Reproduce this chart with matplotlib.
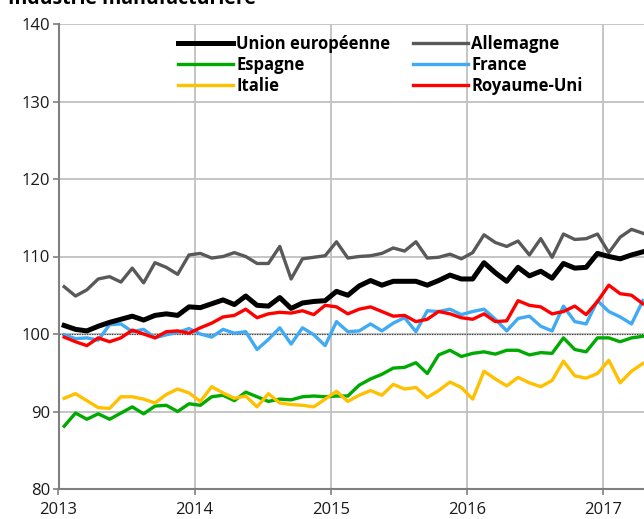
import numpy as np
import matplotlib
matplotlib.use("Agg")
import matplotlib.pyplot as plt

plt.rcParams['font.family'] = ['Open Sans', 'DejaVu Sans']

# mois de janvier 2013 a avril 2017
n_months = 52
months = np.arange(n_months)

ue = [101.1, 100.6, 100.4, 101.0, 101.5, 101.9, 102.3, 101.8, 102.4, 102.6, 102.4, 103.5,
      103.4, 103.9, 104.4, 103.8, 104.9, 103.7, 103.6, 104.7, 103.3, 104.0, 104.2, 104.3,
      105.5, 105.0, 106.2, 106.9, 106.3, 106.8, 106.8, 106.8, 106.3, 106.9, 107.6, 107.1,
      107.1, 109.2, 107.9, 106.8, 108.6, 107.5, 108.1, 107.2, 109.1, 108.5, 108.6, 110.4,
      110.0, 109.7, 110.2, 110.6]
allemagne = [106.1, 104.9, 105.7, 107.1, 107.4, 106.7, 108.5, 106.6, 109.2, 108.6, 107.7, 110.2,
             110.4, 109.8, 110.0, 110.5, 110.0, 109.1, 109.1, 111.3, 107.1, 109.7, 109.9, 110.1,
             111.9, 109.8, 110.0, 110.1, 110.4, 111.1, 110.7, 111.9, 109.8, 109.9, 110.3, 109.7,
             110.5, 112.8, 111.8, 111.3, 112.0, 110.2, 112.3, 109.9, 112.9, 112.2, 112.3, 112.9,
             110.5, 112.5, 113.5, 113.0]
espagne = [88.1, 89.8, 89.0, 89.7, 89.0, 89.8, 90.6, 89.7, 90.7, 90.8, 90.0, 91.0,
           90.8, 91.9, 92.1, 91.4, 92.5, 91.9, 91.3, 91.6, 91.5, 91.9, 92.0, 91.9,
           92.0, 92.0, 93.4, 94.2, 94.8, 95.6, 95.7, 96.3, 94.9, 97.3, 97.9, 97.1,
           97.5, 97.7, 97.4, 97.9, 97.9, 97.3, 97.6, 97.5, 99.5, 98.0, 97.7, 99.5,
           99.5, 99.0, 99.5, 99.7]
france = [99.9, 99.4, 99.5, 99.2, 101.2, 101.3, 100.3, 100.6, 99.5, 99.9, 100.2, 100.7,
          100.0, 99.6, 100.6, 100.1, 100.3, 98.0, 99.3, 100.8, 98.7, 100.8, 99.9, 98.5,
          101.6, 100.3, 100.4, 101.3, 100.4, 101.4, 102.1, 100.3, 103.0, 102.9, 103.2, 102.5,
          102.9, 103.2, 101.9, 100.4, 102.0, 102.3, 101.0, 100.4, 103.6, 101.6, 101.3, 104.3,
          102.9, 102.2, 101.3, 104.3]
italie = [91.7, 92.3, 91.4, 90.5, 90.4, 91.9, 91.9, 91.6, 91.1, 92.2, 92.9, 92.4,
          91.3, 93.2, 92.4, 91.7, 92.0, 90.6, 92.3, 91.1, 90.9, 90.8, 90.6, 91.6,
          92.6, 91.3, 92.1, 92.7, 92.1, 93.5, 92.9, 93.1, 91.8, 92.7, 93.8, 93.1,
          91.6, 95.2, 94.2, 93.3, 94.4, 93.7, 93.2, 94.0, 96.5, 94.6, 94.3, 94.9,
          96.6, 93.7, 95.2, 96.2]
royaume_uni = [99.6, 99.0, 98.5, 99.5, 99.0, 99.5, 100.5, 100.0, 99.5, 100.3, 100.4, 100.1,
               100.8, 101.4, 102.2, 102.4, 103.2, 102.1, 102.6, 102.8, 102.7, 103.0, 102.5, 103.7,
               103.5, 102.6, 103.2, 103.5, 102.9, 102.3, 102.4, 101.6, 101.9, 102.9, 102.6, 102.1,
               101.9, 102.6, 101.6, 101.7, 104.3, 103.7, 103.5, 102.6, 102.9, 103.6, 102.5, 104.2,
               106.3, 105.2, 105.0, 103.9]

years = [2013, 2014, 2015, 2016, 2017]
y_ticks = [80, 90, 100, 110, 120, 130, 140]

# point au milieu de chaque mois
x = 2013 + (months + 0.5) / 12

fig = plt.figure(figsize=(6.44, 5.19), dpi=100)
ax = fig.add_axes([58.5 / 644, 1 - 489 / 519, 1 - 58.5 / 644, (489 - 24) / 519])

for yr in years[1:]:
    ax.axvline(yr, color="#c0c0c0", lw=1.3, zorder=0)
for v in y_ticks[1:]:
    ax.axhline(v, color="#c0c0c0", lw=1.3, zorder=0)
ax.axhline(100, color="#404040", lw=0.9, ls=(0, (1, 1)), zorder=1)

l_ue, = ax.plot(x, ue, color="black", lw=3.6, label="Union européenne", zorder=5)
l_de, = ax.plot(x, allemagne, color="#595959", lw=2.4, label="Allemagne", zorder=3)
l_es, = ax.plot(x, espagne, color="#00aa00", lw=2.4, label="Espagne", zorder=3)
l_fr, = ax.plot(x, france, color="#40aaf5", lw=2.4, label="France", zorder=3)
l_it, = ax.plot(x, italie, color="#ffc000", lw=2.4, label="Italie", zorder=3)
l_uk, = ax.plot(x, royaume_uni, color="#ff0000", lw=2.4, label="Royaume-Uni", zorder=4)

ax.set_xlim(2013, 2017.30)
ax.set_ylim(80, 140)
ax.set_xticks(years)
ax.set_xticklabels([str(y) for y in years])
ax.set_yticks(y_ticks)
ax.tick_params(axis="both", labelsize=12, color="#808080", length=4, width=1.2,
               labelcolor="#1a1a1a", pad=2)
ax.tick_params(axis="x", pad=5)

for s in ["top", "right"]:
    ax.spines[s].set_visible(False)
for s in ["left", "bottom"]:
    ax.spines[s].set_color("#808080")
    ax.spines[s].set_linewidth(1.5)

handles = [l_ue, l_es, l_it, l_de, l_fr, l_uk]
leg = fig.legend(handles, [h.get_label() for h in handles], ncol=2,
                 loc="upper left", bbox_to_anchor=(178 / 644, 1 - 35 / 519),
                 frameon=False, prop={"weight": "bold", "size": 12},
                 handlelength=3.3, handletextpad=0.2, columnspacing=1.35,
                 labelspacing=0.18, borderpad=0, borderaxespad=0)

fig.text(8 / 644, 1 - 4 / 519, "Industrie manufacturière", fontsize=14,
         fontweight="bold", va="baseline", ha="left")

fig.savefig("out.png", dpi=100)
